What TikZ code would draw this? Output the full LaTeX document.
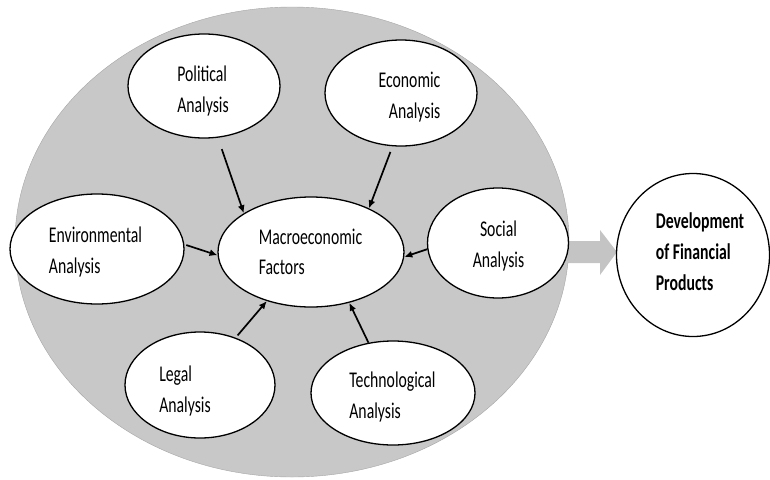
\documentclass[tikz,border=0pt]{standalone}
\usepackage{fontspec}
\setmainfont[FakeStretch=0.7]{Carlito}
\usetikzlibrary{arrows.meta, shapes.geometric}
\definecolor{areagray}{RGB}{200,200,200}
\definecolor{pushgray}{RGB}{196,196,196}

\begin{document}
\begin{tikzpicture}[x=1pt, y=-1pt,
    font=\fontsize{22.5}{30.5}\selectfont,
    bubble/.style={ellipse, draw, line width=1.3pt, fill=white, inner sep=0pt},
    lbl/.style={inner sep=0pt, align=left},
    feed/.style={-{Latex[length=8pt, width=7pt]}, line width=1.7pt},
  ]
  \useasboundingbox (0,0) rectangle (770,479);

  % grey area holding the six analyses
  \node[ellipse, fill=areagray, draw=gray!70, line width=0.4pt,
        minimum width=554pt, minimum height=470pt] (area) at (292,242) {};

  % block arrow towards the products
  \fill[pushgray] (567,241) -- (600,241) -- (600,230) -- (617,252)
    -- (600,275) -- (600,263) -- (567,263) -- cycle;

  \node[bubble, minimum width=152pt, minimum height=104pt] (pol) at (204,86) {};
  \node[bubble, minimum width=152pt, minimum height=106pt] (eco) at (401,93) {};
  \node[bubble, minimum width=174pt, minimum height=110pt] (env) at (97,249) {};
  \node[bubble, minimum width=186pt, minimum height=110pt] (mac) at (311,252) {};
  \node[bubble, minimum width=141pt, minimum height=110pt] (soc) at (498,243) {};
  \node[bubble, minimum width=150pt, minimum height=106pt] (leg) at (200,385) {};
  \node[bubble, minimum width=164pt, minimum height=104pt] (tec) at (393,393) {};
  \node[bubble, minimum width=153pt, minimum height=163pt] (dev) at (693,255) {};

  \node[lbl] (pol-t) at (203,91) {Political\\Analysis};
  \node[lbl, align=right] (eco-t) at (409.5,97) {Economic\\Analysis};
  \node[lbl] (env-t) at (95.5,252) {Environmental\\Analysis};
  \node[lbl] (mac-t) at (310.5,252) {Macroeconomic\\Factors};
  \node[lbl, align=center] (soc-t) at (498.5,246) {Social\\Analysis};
  \node[lbl] (leg-t) at (185,391) {Legal\\Analysis};
  \node[lbl] (tec-t) at (392.5,397) {Technological\\Analysis};
  \node[lbl, font=\fontsize{22.5}{31}\selectfont\bfseries] (dev-t) at (700,252)
    {Development\\of Financial\\Products};

  % arrows into the centre
  \draw[feed, shorten <=12pt] (pol.-75) -- (mac.150);
  \draw[feed, shorten <=6pt] (eco.-99) -- (mac.37);
  \draw[feed, shorten <=2pt] (env.3) -- (mac.182);
  \draw[feed] (soc.185) -- (mac.-3);
  \draw[feed, shorten <=3pt] (leg.53) -- (mac.-132);
  \draw[feed] (tec.116) -- (mac.-53);
\end{tikzpicture}
\end{document}
